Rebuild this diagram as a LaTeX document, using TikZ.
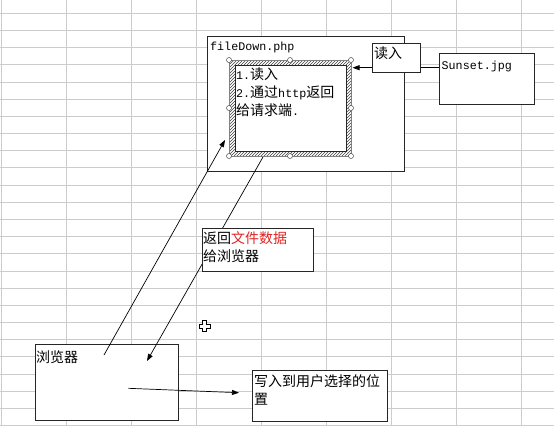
\documentclass[tikz,border=0pt]{standalone}
\usepackage{fontspec}
\newfontfamily\cjk{Noto Sans CJK SC}
\newfontfamily\mono{Liberation Mono}
\usetikzlibrary{arrows.meta,patterns}
\newcommand\hw[1]{{\mono\fontsize{11.7}{18}\selectfont #1}}
\definecolor{txtred}{RGB}{225,35,35}
\begin{document}
\begin{tikzpicture}[x=1pt,y=-1pt,
  box/.style={draw=black!85, line width=0.8pt, fill=white, inner sep=0, anchor=north west},
  lbl/.style={inner sep=0, anchor=north west, align=left, font=\cjk\fontsize{14}{18}\selectfont},
  arr/.style={draw=black, line width=0.7pt, -{Triangle[length=7pt,width=5pt]}},
  gridline/.style={draw=gray!40, line width=0.9pt},
  handle/.style={circle, draw=gray!60!black, fill=white, inner sep=0, minimum size=5pt, line width=0.5pt}]
\useasboundingbox (0,0) rectangle (554,426);
\fill[white] (0,0) rectangle (554,426);
% spreadsheet grid
\foreach \k in {0,...,24} \draw[gridline] (0,{13.3+17.18*\k}) -- (554,{13.3+17.18*\k});
\foreach \x in {1,66,131,196,261,326,391,456,521} \draw[gridline] (\x,0) -- (\x,426);

% fileDown.php box
\node[box, minimum width=197pt, minimum height=135pt] (php) at (207,36) {};
\node[lbl] (phptxt) at (210,37.4) {\strut\hw{fileDown.php}};

% selected text box with hatched frame
\path[pattern=north east lines, pattern color=black!75] (229,60) rectangle (351,156);
\draw[gray, line width=0.4pt] (229,60) rectangle (351,156);
\node[box, minimum width=111pt, minimum height=86pt, line width=0.6pt] (inner) at (235,65) {};
\foreach \p/\n in {{(229,60)}/1,{(290,60)}/2,{(351,60)}/3,{(229,108)}/4,{(351,108)}/5,{(229,156)}/6,{(290,156)}/7,{(351,156)}/8}
  \node[handle] (h\n) at \p {};
\node[lbl] (innertxt) at (236,66.4) {\strut\hw{1.}读入\\\hw{2.}通过\hw{http}返回\\给请求端\hw{.}};

% read arrow from Sunset.jpg
\coordinate (s1) at (439.3,67.7);
\coordinate (s2) at (352.5,67.7);
\draw[arr] (s1) -- (s2);
\node[box, minimum width=48pt, minimum height=29pt] (readbox) at (372,43.3) {};
\node[lbl] (readtxt) at (374,45.4) {\strut 读入};

% Sunset.jpg
\node[box, minimum width=95pt, minimum height=51pt] (sunset) at (439.3,53.3) {};
\node[lbl] (sunsettxt) at (441.5,56.7) {\strut\hw{Sunset.jpg}};

% browser box
\node[box, minimum width=143.3pt, minimum height=75.7pt] (browser) at (35,344.3) {};
\node[lbl] (browsertxt) at (36,349.4) {\strut 浏览器};

% arrows
\coordinate (a1s) at (104,355);
\coordinate (a1e) at (225,140);
\draw[arr] (a1s) -- (a1e);
\coordinate (a2s) at (263,157);
\coordinate (a2e) at (147,361);
\draw[arr] (a2s) -- (a2e);
\coordinate (a3s) at (128.3,388.3);
\coordinate (a3e) at (239,392.7);
\draw[arr] (a3s) -- (a3e);

% return data box
\node[box, minimum width=111.3pt, minimum height=43.3pt] (ret) at (201.7,227.7) {};
\node[lbl] (rettxt) at (203,230.4) {\strut 返回\textcolor{txtred}{文件数据}\\给浏览器};

% write box
\node[box, minimum width=135.2pt, minimum height=51pt] (write) at (251.5,370) {};
\node[lbl] (writetxt) at (254,373.4) {\strut 写入到用户选择的位\\置};

% cursor
\draw[black, fill=white, line width=0.7pt]
  (202.5,320.5) -- (206.5,320.5) -- (206.5,324) -- (210,324) -- (210,328) -- (206.5,328)
  -- (206.5,331.5) -- (202.5,331.5) -- (202.5,328) -- (199,328) -- (199,324) -- (202.5,324) -- cycle;
\end{tikzpicture}
\end{document}
